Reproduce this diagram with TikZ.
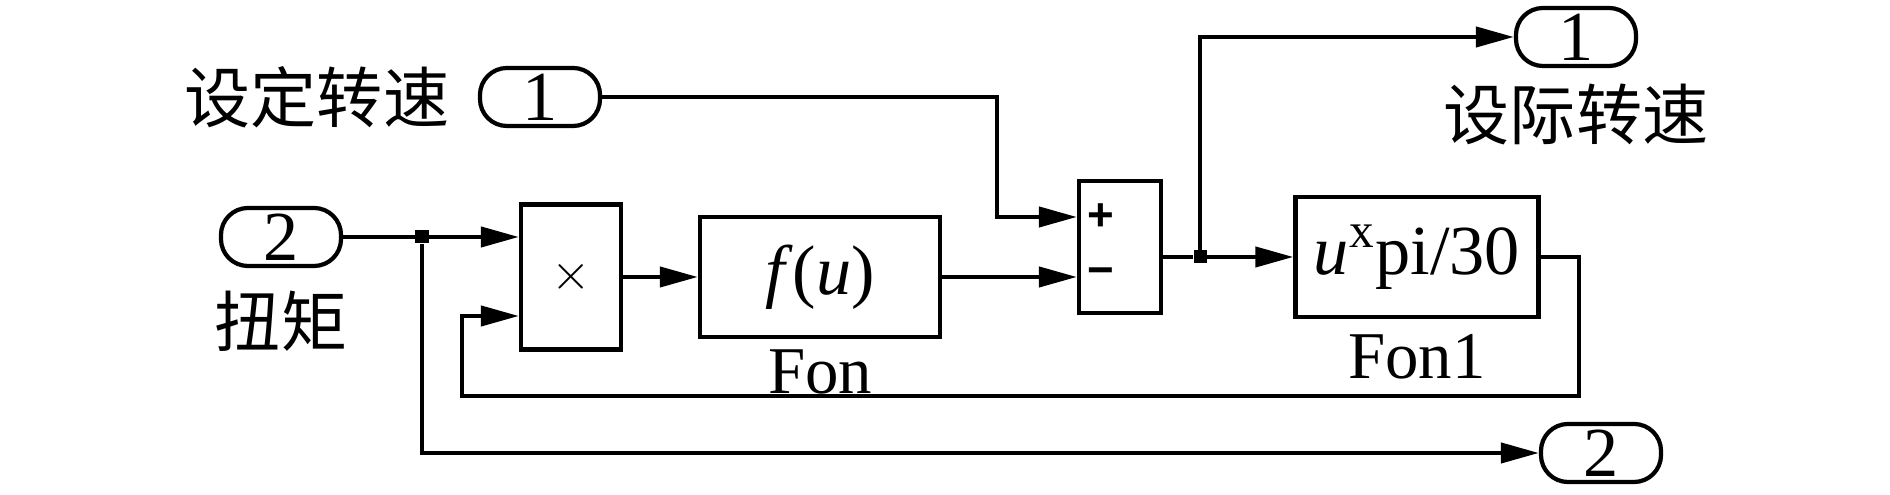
\documentclass[tikz,border=0pt]{standalone}
\usepackage{fontspec}
\setmainfont{Liberation Serif}
\setsansfont{Liberation Sans}
\newfontfamily\cjk{Noto Sans CJK SC}
\usetikzlibrary{arrows.meta,positioning,calc}

\tikzset{
  blk/.style={draw, line width=1.2pt, inner sep=0pt, font=\fontsize{20}{22}\selectfont},
  port/.style={draw, line width=1.2pt, rounded corners=0.27cm, minimum width=1.2cm,
    minimum height=0.58cm, inner sep=0pt, font=\fontsize{20}{20}\selectfont},
  sig/.style={line width=1.2pt, -{Triangle[length=0.38cm,width=0.2cm]}},
  wire/.style={line width=1.2pt},
  dot/.style={fill, inner sep=0pt, minimum size=0.13cm},
  cn/.style={font=\cjk\fontsize{18.8}{20}\selectfont, inner sep=0pt},
  lbl/.style={font=\fontsize{19}{20}\selectfont, inner sep=0pt},
  sgn/.style={font=\sffamily\bfseries\fontsize{13}{13}\selectfont, inner sep=0pt}
}

\begin{document}
\begin{tikzpicture}[x=0.01cm, y=-0.01cm]
\useasboundingbox (0,0) rectangle (1890,495);

% in and out ports
\node[port] (in1) at (540,97) {1};
\node[cn, left=0.28cm of in1] (in1name) {设定转速};
\node[port] (in2) at (281,237) {2};
\node[cn, below=0.22cm of in2] (in2name) {扭矩};
\node[port] (out1) at (1576,37) {1};
\node[cn, below=0.15cm of out1] (out1name) {设际转速};
\node[port] (out2) at (1601,453) {2};

% blocks
\node[blk, minimum width=1cm, minimum height=1.45cm] (mul) at (571,277) {\fontsize{14}{14}\selectfont$\times$};
\node[blk, minimum width=2.4cm, minimum height=1.2cm] (fon) at (820,277) {\textit{f}(\textit{u})\hspace{0.45cm}};
\node[lbl, below=0.1cm of fon] (fonname) {Fon};
\node[blk, minimum width=0.82cm, minimum height=1.32cm] (sum) at (1120,247) {};
\node[blk, minimum width=2.43cm, minimum height=1.2cm] (fon1) at (1417,257) {\textit{u}\textsuperscript{x}pi/30};
\node[lbl, below=0.15cm of fon1] (fon1name) {Fon1};

% sum inputs
\coordinate (sp) at ($(sum.west)+(0,-30)$);
\coordinate (sm) at ($(sum.west)+(0,30)$);
\node[sgn, right=0.1cm of sp] {+};
\node[sgn, right=0.1cm of sm] {−};

% branch points
\node[dot] (j1) at (422,237) {};
\node[dot] (j2) at (1200,257) {};
\coordinate (fb) at (462,396);

% wires
\draw[sig] (in1) -| ($(sp)+(-80,0)$) -- (sp);
\draw[wire] (in2) -- (j1);
\draw[sig] (j1) -- (mul.west |- j1);
\draw[sig] (j1) |- (out2);
\draw[sig] (mul) -- (fon);
\draw[sig] (fon) -- (sm);
\draw[wire] (sum.east |- j2) -- (j2);
\draw[sig] (j2) -- (fon1);
\draw[sig] (j2) |- (out1);
\draw[sig] (fon1.east) -- ++(38,0) |- (fb) |- ($(mul.west)+(0,39)$);
\end{tikzpicture}
\end{document}
